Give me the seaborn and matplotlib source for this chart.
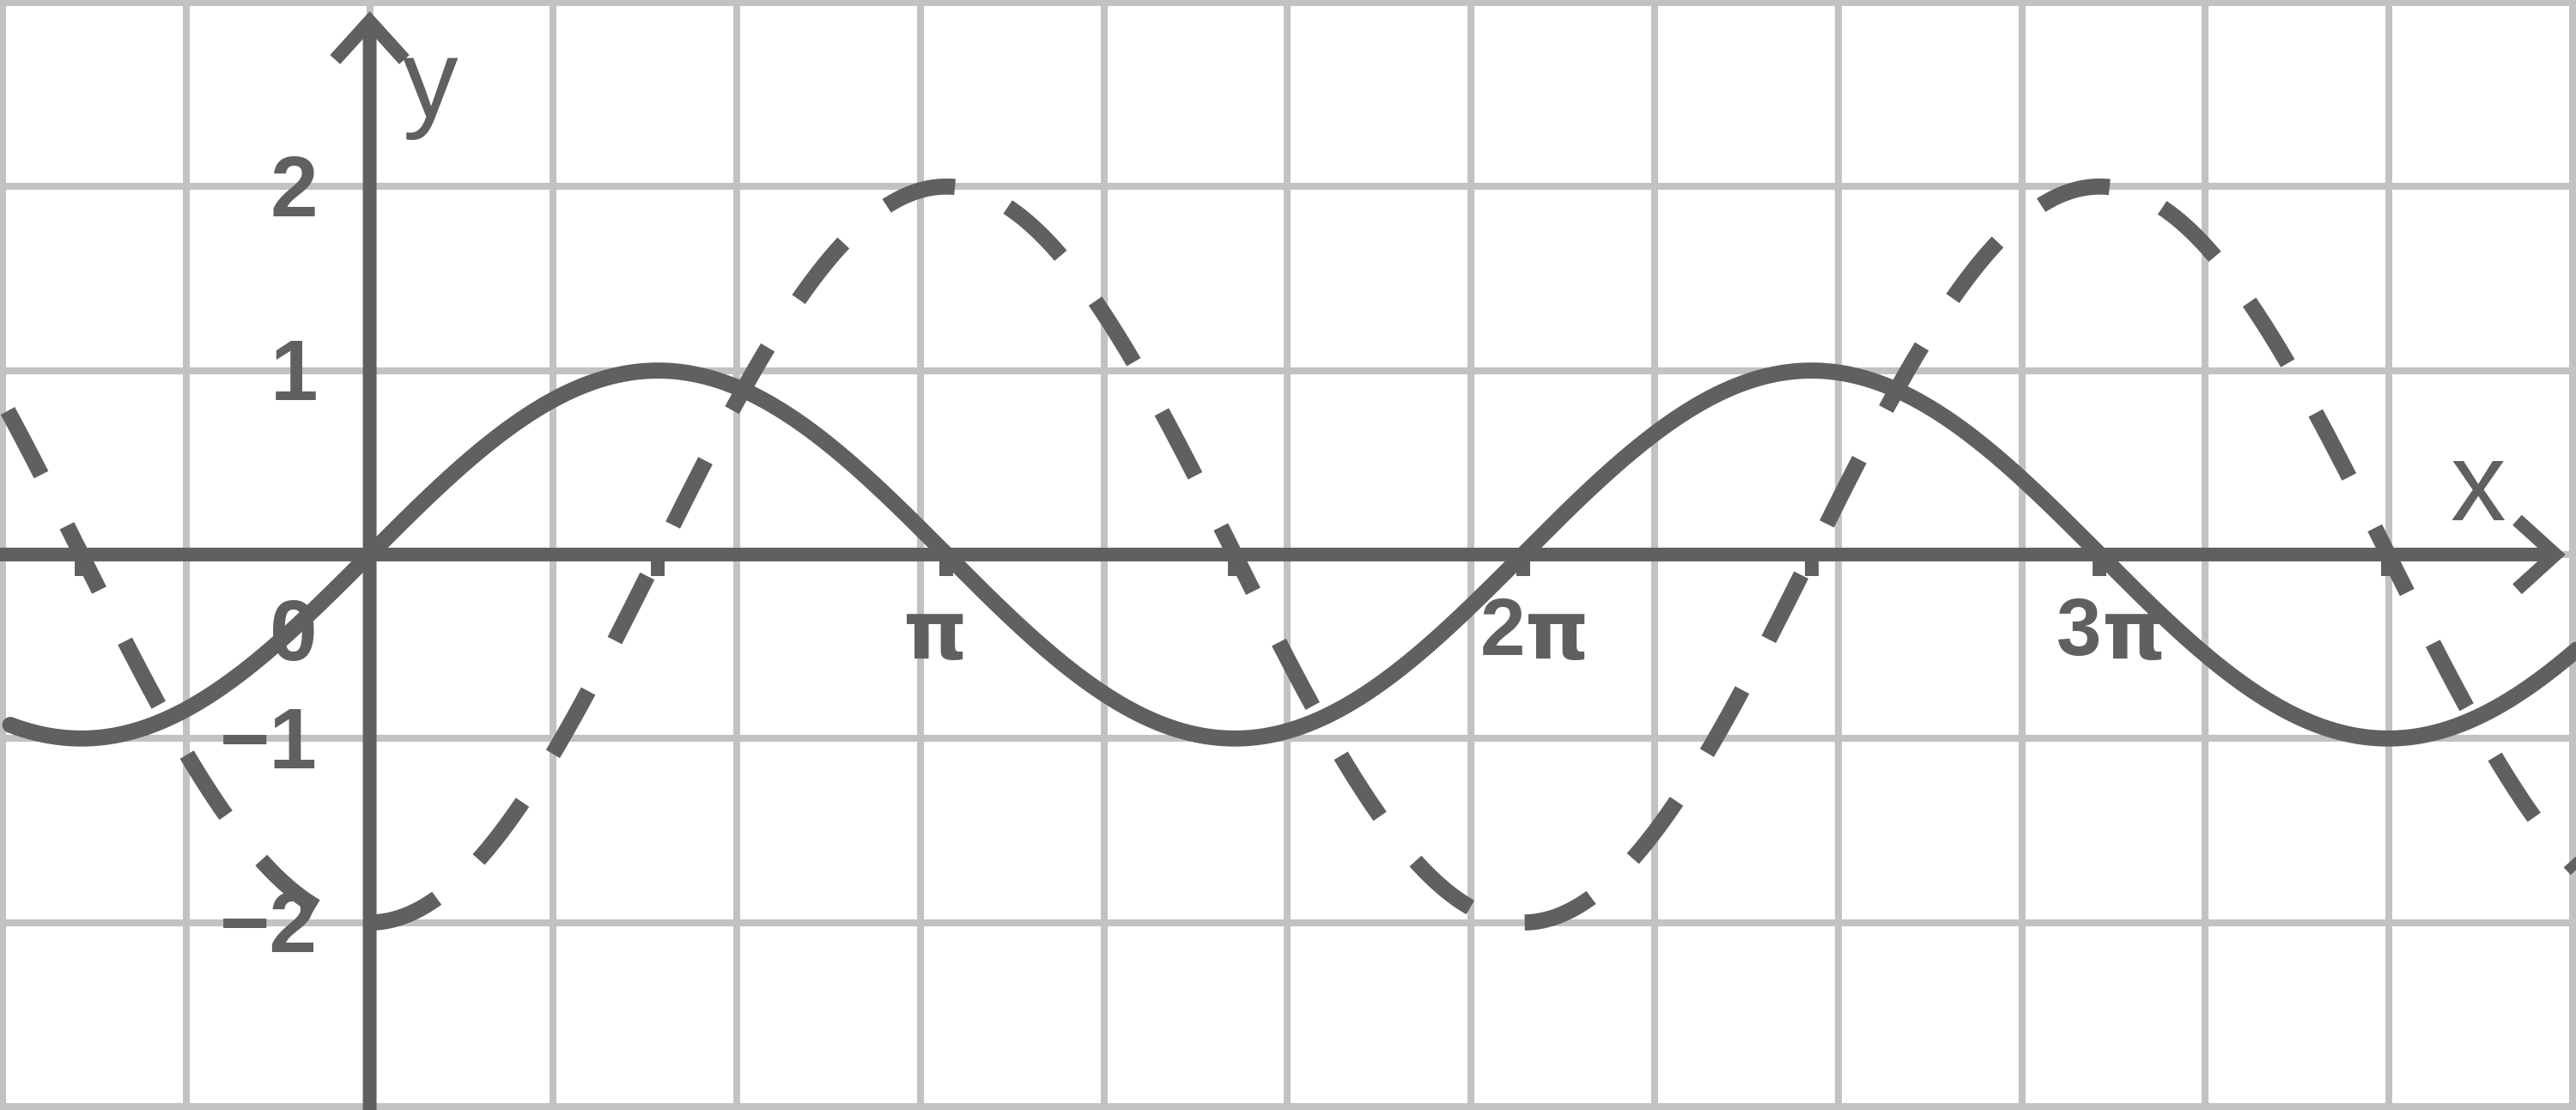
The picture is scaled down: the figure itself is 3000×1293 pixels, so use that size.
import numpy as np
import pandas as pd
import matplotlib
matplotlib.use("Agg")
import matplotlib.pyplot as plt
import seaborn as sns

# curves: y = sin(x) (solid) and y = -2 cos(x) (dashed)
SIN_AMPLITUDE = 1.0
COS_AMPLITUDE = -2.0
SOLID_X_RANGE = (-1.958, 12.2)
DASHED_X_RANGE = (-2.0, 12.2)

# grid / axes
X_GRID = list(range(-2, 13))
Y_GRID = list(range(-3, 4))
XLIM = (-2.014, 12.019)
YLIM = (-3.019, 3.014)

# labels
X_TICK_MARKS = [-np.pi / 2, np.pi / 2, np.pi, 3 * np.pi / 2, 2 * np.pi,
                5 * np.pi / 2, 3 * np.pi, 7 * np.pi / 2]
X_LABEL_POS = [np.pi, 2 * np.pi, 3 * np.pi]
X_LABEL_COEF = ["", "2", "3"]  # label = coef + "π"
Y_LABEL_POS = [2, 1, -1, -2]
Y_LABELS = ["2", "1", "−1", "−2"]

DARK = "#606060"
GRID = "#c2c2c2"

sns.set_style("white")
plt.rcParams["font.family"] = ["Liberation Sans", "DejaVu Sans"]
plt.rcParams["lines.scale_dashes"] = False

xs = np.linspace(*SOLID_X_RANGE, 2000)
solid = pd.DataFrame({"x": xs, "y": SIN_AMPLITUDE * np.sin(xs)})
xd = np.linspace(*DASHED_X_RANGE, 2000)
dashed = pd.DataFrame({"x": xd, "y": COS_AMPLITUDE * np.cos(xd)})

fig = plt.figure(figsize=(30, 12.93), dpi=100)
ax = fig.add_axes([0, 0, 1, 1])
ax.set_xlim(*XLIM)
ax.set_ylim(*YLIM)
for s in ax.spines.values():
    s.set_visible(False)
ax.set_xticks(X_GRID)
ax.set_yticks(Y_GRID)
ax.tick_params(length=0, labelbottom=False, labelleft=False)
ax.grid(True, color=GRID, lw=5.8)
ax.set_axisbelow(True)

axis_lw = 11.5
# axes with open arrow heads
arrow = dict(arrowstyle="->,head_length=0.32,head_width=0.29", lw=axis_lw,
             color=DARK, shrinkA=0, shrinkB=0, mutation_scale=100,
             capstyle="butt", joinstyle="miter")
ax.annotate("", xy=(XLIM[1] - 0.057, 0), xytext=(XLIM[0], 0),
            arrowprops=arrow, zorder=2)
ax.annotate("", xy=(0, YLIM[1] - 0.061), xytext=(0, YLIM[0]),
            arrowprops=arrow, zorder=2)
ax.vlines(X_TICK_MARKS, -0.117, 0, colors=DARK, lw=axis_lw,
          capstyle="butt", zorder=2)

sns.lineplot(data=solid, x="x", y="y", ax=ax, color=DARK, lw=13.5,
             solid_capstyle="round", zorder=3)
sns.lineplot(data=dashed, x="x", y="y", ax=ax, color=DARK, lw=13.5,
             linestyle=(99.4, (60.5, 47.9)), dash_capstyle="butt", zorder=3)
ax.set_xlabel("")
ax.set_ylabel("")

num_font = dict(fontsize=72, fontweight="bold", color=DARK, zorder=4)
for v, lab in zip(Y_LABEL_POS, Y_LABELS):
    ax.text(-0.283, v - 0.161, lab, ha="right", va="baseline", **num_font)
ax.text(-0.283, -0.574, "0", ha="right", va="baseline", **num_font)

# x labels: digit in Liberation Sans, boxier pi from DejaVu Sans
pi_font = dict(fontsize=68, fontweight="bold", color=DARK, zorder=4,
               family=["DejaVu Sans"])
for v, coef in zip(X_LABEL_POS, X_LABEL_COEF):
    if coef:
        ax.text(v + 0.01, -0.545, coef, ha="right", va="baseline",
                fontsize=68, fontweight="bold", color=DARK, zorder=4)
        ax.text(v + 0.01, -0.57, "π", ha="left", va="baseline", **pi_font)
    else:
        ax.text(v - 0.06, -0.57, "π", ha="center", va="baseline", **pi_font)

ax.text(0.329, 2.379, "y", ha="center", va="baseline", fontsize=93,
        color=DARK, zorder=4)
ax.text(11.485, 0.186, "x", ha="center", va="baseline", fontsize=93,
        color=DARK, zorder=4)

fig.savefig("out.png", dpi=100)
plt.close(fig)
